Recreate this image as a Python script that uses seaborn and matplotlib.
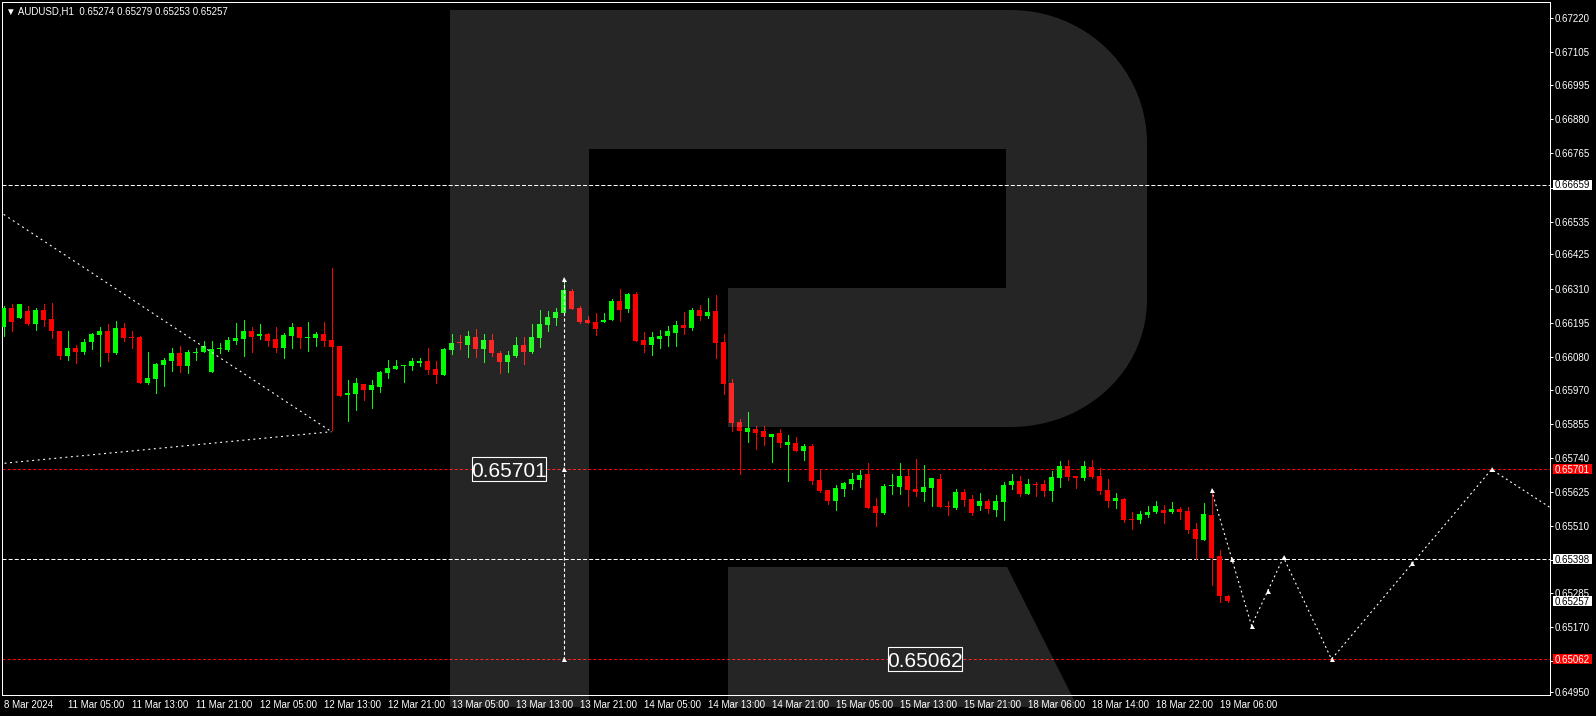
#!/usr/bin/env python3
import numpy as np
import matplotlib
matplotlib.use("Agg")
import matplotlib.pyplot as plt
from matplotlib.patches import Polygon, Rectangle
from matplotlib.transforms import blended_transform_factory, offset_copy
import seaborn as sns

TITLE = "\u25bc AUDUSD,H1  0.65274 0.65279 0.65253 0.65257"

# H1 candles, 8 Mar 21:00 .. 19 Mar 07:00
OPEN = [
    0.66181, 0.66245, 0.66211, 0.66234, 0.66190, 0.66238, 0.66208, 0.66167, 0.66083, 0.66110,
    0.66096, 0.66130, 0.66154, 0.66167, 0.66093, 0.66177, 0.66147, 0.66147, 0.65992, 0.66005,
    0.66053, 0.66066, 0.66093, 0.66049, 0.66093, 0.66096, 0.66029, 0.66107, 0.66103, 0.66133,
    0.66140, 0.66167, 0.66150, 0.66157, 0.66140, 0.66110, 0.66150, 0.66181, 0.66144, 0.66144,
    0.66157, 0.66137, 0.66117, 0.65952, 0.65955, 0.65989, 0.65968, 0.65979, 0.66025, 0.66039,
    0.66049, 0.66049, 0.66059, 0.66066, 0.66039, 0.66019, 0.66103, 0.66130, 0.66120, 0.66147,
    0.66107, 0.66137, 0.66093, 0.66063, 0.66083, 0.66120, 0.66096, 0.66144, 0.66187, 0.66211,
    0.66228, 0.66302, 0.66245, 0.66204, 0.66197, 0.66197, 0.66204, 0.66268, 0.66241, 0.66292,
    0.66137, 0.66120, 0.66140, 0.66150, 0.66160, 0.66187, 0.66177, 0.66238, 0.66218, 0.66234,
    0.66130, 0.65992, 0.65861, 0.65827, 0.65837, 0.65830, 0.65810, 0.65824, 0.65783, 0.65790,
    0.65763, 0.65780, 0.65665, 0.65632, 0.65595, 0.65635, 0.65652, 0.65665, 0.65686, 0.65578,
    0.65554, 0.65644, 0.65642, 0.65679, 0.65635, 0.65625, 0.65638, 0.65669, 0.65578, 0.65571,
    0.65625, 0.65602, 0.65578, 0.65595, 0.65564, 0.65591, 0.65648, 0.65662, 0.65618, 0.65652,
    0.65652, 0.65628, 0.65672, 0.65712, 0.65679, 0.65672, 0.65709, 0.65679, 0.65632, 0.65595,
    0.65602, 0.65534, 0.65531, 0.65548, 0.65558, 0.65564, 0.65558, 0.65568, 0.65561, 0.65500,
    0.65463, 0.65548, 0.65409, 0.65274,
]
HIGH = [
    0.66251, 0.66258, 0.66258, 0.66251, 0.66245, 0.66258, 0.66261, 0.66167, 0.66167, 0.66120,
    0.66140, 0.66160, 0.66181, 0.66190, 0.66201, 0.66194, 0.66167, 0.66150, 0.66096, 0.66059,
    0.66076, 0.66110, 0.66117, 0.66103, 0.66110, 0.66133, 0.66133, 0.66127, 0.66147, 0.66194,
    0.66204, 0.66181, 0.66190, 0.66160, 0.66181, 0.66160, 0.66194, 0.66181, 0.66197, 0.66164,
    0.66197, 0.66379, 0.66117, 0.66002, 0.66009, 0.65989, 0.66002, 0.66032, 0.66070, 0.66070,
    0.66053, 0.66076, 0.66076, 0.66110, 0.66066, 0.66110, 0.66157, 0.66154, 0.66167, 0.66174,
    0.66157, 0.66157, 0.66100, 0.66100, 0.66147, 0.66147, 0.66190, 0.66238, 0.66234, 0.66245,
    0.66339, 0.66309, 0.66251, 0.66218, 0.66228, 0.66228, 0.66275, 0.66309, 0.66295, 0.66298,
    0.66164, 0.66164, 0.66170, 0.66184, 0.66201, 0.66231, 0.66245, 0.66255, 0.66278, 0.66288,
    0.66157, 0.66005, 0.65871, 0.65894, 0.65847, 0.65847, 0.65820, 0.65837, 0.65817, 0.65810,
    0.65787, 0.65787, 0.65702, 0.65632, 0.65648, 0.65659, 0.65689, 0.65699, 0.65723, 0.65605,
    0.65652, 0.65686, 0.65723, 0.65699, 0.65736, 0.65716, 0.65672, 0.65686, 0.65595, 0.65635,
    0.65635, 0.65615, 0.65622, 0.65602, 0.65615, 0.65659, 0.65686, 0.65679, 0.65669, 0.65659,
    0.65665, 0.65696, 0.65729, 0.65733, 0.65679, 0.65729, 0.65733, 0.65706, 0.65669, 0.65622,
    0.65605, 0.65558, 0.65561, 0.65578, 0.65595, 0.65581, 0.65591, 0.65575, 0.65575, 0.65521,
    0.65588, 0.65632, 0.65430, 0.65279,
]
LOW = [
    0.66150, 0.66167, 0.66211, 0.66187, 0.66170, 0.66184, 0.66144, 0.66073, 0.66070, 0.66059,
    0.66090, 0.66107, 0.66049, 0.66066, 0.66090, 0.66133, 0.66110, 0.65992, 0.65989, 0.65958,
    0.65982, 0.66032, 0.66029, 0.66025, 0.66070, 0.66096, 0.66029, 0.66093, 0.66100, 0.66123,
    0.66083, 0.66096, 0.66140, 0.66117, 0.66096, 0.66076, 0.66110, 0.66110, 0.66100, 0.66117,
    0.66117, 0.65834, 0.65948, 0.65864, 0.65901, 0.65935, 0.65908, 0.65962, 0.66009, 0.66039,
    0.65995, 0.66036, 0.66049, 0.66022, 0.65992, 0.66019, 0.66090, 0.66107, 0.66080, 0.66080,
    0.66063, 0.66083, 0.66025, 0.66029, 0.66080, 0.66056, 0.66093, 0.66113, 0.66167, 0.66187,
    0.66228, 0.66241, 0.66194, 0.66194, 0.66154, 0.66197, 0.66204, 0.66201, 0.66231, 0.66133,
    0.66096, 0.66086, 0.66110, 0.66117, 0.66117, 0.66157, 0.66170, 0.66204, 0.66211, 0.66076,
    0.65955, 0.65830, 0.65686, 0.65793, 0.65770, 0.65783, 0.65726, 0.65776, 0.65662, 0.65763,
    0.65733, 0.65652, 0.65625, 0.65585, 0.65564, 0.65611, 0.65635, 0.65642, 0.65571, 0.65510,
    0.65551, 0.65618, 0.65618, 0.65578, 0.65611, 0.65595, 0.65578, 0.65575, 0.65548, 0.65568,
    0.65578, 0.65548, 0.65564, 0.65554, 0.65544, 0.65531, 0.65635, 0.65611, 0.65618, 0.65611,
    0.65611, 0.65595, 0.65642, 0.65665, 0.65638, 0.65665, 0.65672, 0.65618, 0.65575, 0.65571,
    0.65524, 0.65500, 0.65521, 0.65541, 0.65554, 0.65521, 0.65554, 0.65534, 0.65487, 0.65399,
    0.65463, 0.65312, 0.65255, 0.65253,
]
CLOSE = [
    0.66245, 0.66197, 0.66258, 0.66190, 0.66238, 0.66204, 0.66167, 0.66083, 0.66110, 0.66096,
    0.66130, 0.66157, 0.66167, 0.66093, 0.66177, 0.66144, 0.66144, 0.65992, 0.66009, 0.66056,
    0.66070, 0.66093, 0.66049, 0.66096, 0.66096, 0.66117, 0.66107, 0.66110, 0.66137, 0.66144,
    0.66167, 0.66147, 0.66157, 0.66133, 0.66110, 0.66154, 0.66181, 0.66144, 0.66147, 0.66157,
    0.66133, 0.66113, 0.65948, 0.65958, 0.65992, 0.65968, 0.65985, 0.66029, 0.66042, 0.66049,
    0.66051, 0.66066, 0.66066, 0.66036, 0.66019, 0.66107, 0.66127, 0.66127, 0.66150, 0.66107,
    0.66137, 0.66093, 0.66063, 0.66086, 0.66120, 0.66096, 0.66147, 0.66190, 0.66214, 0.66231,
    0.66305, 0.66241, 0.66197, 0.66194, 0.66174, 0.66204, 0.66268, 0.66238, 0.66292, 0.66133,
    0.66120, 0.66147, 0.66150, 0.66167, 0.66187, 0.66177, 0.66238, 0.66218, 0.66231, 0.66127,
    0.65989, 0.65857, 0.65830, 0.65841, 0.65824, 0.65810, 0.65820, 0.65790, 0.65793, 0.65763,
    0.65780, 0.65662, 0.65628, 0.65595, 0.65638, 0.65655, 0.65669, 0.65682, 0.65571, 0.65554,
    0.65645, 0.65646, 0.65679, 0.65632, 0.65625, 0.65642, 0.65672, 0.65575, 0.65575, 0.65625,
    0.65598, 0.65554, 0.65595, 0.65568, 0.65595, 0.65648, 0.65662, 0.65618, 0.65652, 0.65648,
    0.65628, 0.65675, 0.65712, 0.65675, 0.65672, 0.65712, 0.65675, 0.65628, 0.65595, 0.65605,
    0.65531, 0.65532, 0.65551, 0.65558, 0.65578, 0.65554, 0.65568, 0.65558, 0.65497, 0.65467,
    0.65551, 0.65403, 0.65275, 0.65257,
]

X_TICK_BARS = [0, 8, 16, 24, 32, 40, 48, 56, 64, 72, 80, 88, 96, 104, 112, 120, 128, 136, 144, 152]
X_TICK_LABELS = [
    "8 Mar 2024", "11 Mar 05:00", "11 Mar 13:00", "11 Mar 21:00", "12 Mar 05:00",
    "12 Mar 13:00", "12 Mar 21:00", "13 Mar 05:00", "13 Mar 13:00", "13 Mar 21:00",
    "14 Mar 05:00", "14 Mar 13:00", "14 Mar 21:00", "15 Mar 05:00", "15 Mar 13:00",
    "15 Mar 21:00", "18 Mar 06:00", "18 Mar 14:00", "18 Mar 22:00", "19 Mar 06:00",
]
Y_TICKS = [0.67220, 0.67105, 0.66995, 0.66880, 0.66765, 0.66650, 0.66535, 0.66425, 0.66310,
           0.66195, 0.66080, 0.65970, 0.65855, 0.65740, 0.65625, 0.65510, 0.65395, 0.65285,
           0.65170, 0.65055, 0.64950]
Y_HIDDEN = [0.66650, 0.65395, 0.65055]   # covered by the level labels

# horizontal levels: price, colour
LEVEL_PRICES = [0.66659, 0.65701, 0.65398, 0.65062]
LEVEL_COLORS = ["white", "#FF0000", "white", "#FF0000"]
LAST_PRICE = 0.65257

# fan lines from the left edge to the 12 Mar low
FAN_BARS = [-1, 41]
FAN_UPPER = [0.66578, 0.65828]
FAN_LOWER = [0.65719, 0.65828]

# target measurement at the 13 Mar high
TARGET_BAR = 70
TARGET_PRICES = [0.66341, 0.65701, 0.65062]

# forecast path
FC_BARS = [151, 156, 160, 166, 186, 194]
FC_PRICES = [0.65632, 0.65175, 0.65405, 0.65062, 0.65701, 0.65561]
FC_MARK_BARS = [151, 153.5, 156, 158, 160, 166, 176, 186]
FC_MARK_PRICES = [0.65632, 0.65401, 0.65175, 0.65292, 0.65405, 0.65062, 0.65385, 0.65701]

W, H = 1596, 716
BULL = "#00FF00"
BEAR = "#FF0000"
PX_PER_PRICE = 29700.0   # vertical scale of the chart, px per 1.0 price

sns.set_theme(style="dark", rc={
    "figure.facecolor": "black",
    "axes.facecolor": "black",
    "axes.edgecolor": "white",
    "axes.grid": False,
    "text.color": "white",
    "xtick.color": "white",
    "ytick.color": "white",
})
plt.rcParams["font.family"] = ["Liberation Sans", "DejaVu Sans"]
plt.rcParams["lines.scale_dashes"] = False

fig = plt.figure(figsize=(W / 100, H / 100), dpi=100, facecolor="black")
ax = fig.add_axes([2 / W, (H - 695) / H, 1548 / W, 693 / H], facecolor="black")

# candles
x = np.arange(len(OPEN))
o, hi, lo, c = (np.asarray(v) for v in (OPEN, HIGH, LOW, CLOSE))
cols = np.where(c >= o, BULL, BEAR)
ax.vlines(x, lo, hi, colors=cols, lw=0.72, antialiased=False, zorder=3)
ax.bar(x, np.maximum(np.abs(c - o), 0.000036), bottom=np.minimum(o, c), width=0.6,
       color=cols, linewidth=0, antialiased=False, zorder=4)

# levels
for price, col in zip(LEVEL_PRICES, LEVEL_COLORS):
    dash = (2.9, 1.5) if col == "white" else (2.2, 1.5)
    ax.axhline(price, color=col, lw=0.72, linestyle=(0, dash), zorder=2)

# fan lines
for ys in (FAN_UPPER, FAN_LOWER):
    sns.lineplot(x=FAN_BARS, y=ys, ax=ax, color="white", lw=0.8, estimator=None, sort=False,
                 linestyle=(0, (1.4, 2.6)), zorder=5)

# vertical measurement
ax.plot([TARGET_BAR] * len(TARGET_PRICES), TARGET_PRICES, color="white", lw=0.8,
        linestyle=(0, (2.4, 1.6)), zorder=5)
ax.plot([TARGET_BAR] * len(TARGET_PRICES), TARGET_PRICES, ls="none", marker="^", ms=3.6,
        color="white", mew=0, zorder=6)

# forecast path
sns.lineplot(x=FC_BARS, y=FC_PRICES, ax=ax, color="white", lw=0.8, estimator=None, sort=False,
             linestyle=(0, (1.4, 2.2)), zorder=5)
ax.plot(FC_MARK_BARS, FC_MARK_PRICES, ls="none", marker="^", ms=3.6, color="white", mew=0, zorder=6)

# big value labels
for bx, price in ((63.2, LEVEL_PRICES[1]), (115.2, LEVEL_PRICES[3])):
    ax.add_patch(Rectangle((bx - 74 / 16, price - 12 / PX_PER_PRICE), 74 / 8, 24 / PX_PER_PRICE,
                           fc="black", ec="white", lw=0.8, zorder=7))
    ax.annotate(f"{price:.5f}", xy=(bx, price), xytext=(0, -5.6), textcoords="offset points",
                ha="center", va="baseline", fontsize=15, color="white", zorder=8)

ax.set_xlim(-0.1875, 193.3125)
ax.set_ylim(0.672816 - 695 / PX_PER_PRICE, 0.672816 - 2 / PX_PER_PRICE)

ax.set_xticks(X_TICK_BARS)
ax.set_xticklabels(X_TICK_LABELS)
for t in ax.get_xticklabels():
    t.set_horizontalalignment("left")
ax.yaxis.tick_right()
ax.set_yticks(Y_TICKS)
ax.set_yticklabels(["" if v in Y_HIDDEN else f"{v:.5f}" for v in Y_TICKS])
ax.tick_params(axis="x", direction="out", length=2.6, width=0.72, pad=0.8, labelsize=7, colors="white")
ax.tick_params(axis="y", direction="out", length=2.2, width=0.72, pad=1.1, labelsize=7, colors="white")
for sp in ax.spines.values():
    sp.set_color("white")
    sp.set_linewidth(0.72)

# price labels on the right scale
trans = blended_transform_factory(ax.transAxes, ax.transData)
text_trans = offset_copy(trans, fig=fig, x=0, y=-2.5, units="points")
tags = [(p, col) for p, col in zip(LEVEL_PRICES, LEVEL_COLORS)] + [(LAST_PRICE, "white")]
for price, col in tags:
    ax.add_patch(Rectangle((1551 / 1548, price - 5 / PX_PER_PRICE), 39 / 1548, 10 / PX_PER_PRICE,
                           transform=trans, fc=col, ec="none", clip_on=False, zorder=9))
    ax.text(1552.5 / 1548, price, f"{price:.5f}", transform=text_trans, ha="left", va="baseline",
            fontsize=7, color="black" if col == "white" else "white", clip_on=False, zorder=10)

fig.text(6 / W, 1 - 14.5 / H, TITLE, fontsize=7, color="white", ha="left", va="baseline")

# watermark "R" drawn over the chart as a light veil
top, bot = 10, 707
th1 = np.linspace(np.pi / 2, 0, 24)
th2 = np.linspace(0, -np.pi / 2, 24)
outer = ([(450, bot), (450, top)]
         + list(zip(1011 + 136 * np.cos(th1), 143 - 133 * np.sin(th1)))
         + list(zip(1011 + 136 * np.cos(th2), 300 - 127 * np.sin(th2)))
         + [(728, 427), (728, 288), (1006, 288), (1006, 149), (589, 149), (589, bot)])
leg = [(728, 567), (1007, 567), (1007 + 0.504 * (bot - 567), bot), (728, bot)]
for shape in (outer, leg):
    pts = np.array([(px / W, 1 - py / H) for px, py in shape])
    fig.add_artist(Polygon(pts, closed=True, transform=fig.transFigure, fc="white", ec="none",
                           alpha=0.15, zorder=20))

fig.savefig("out.png", dpi=100, facecolor="black")
